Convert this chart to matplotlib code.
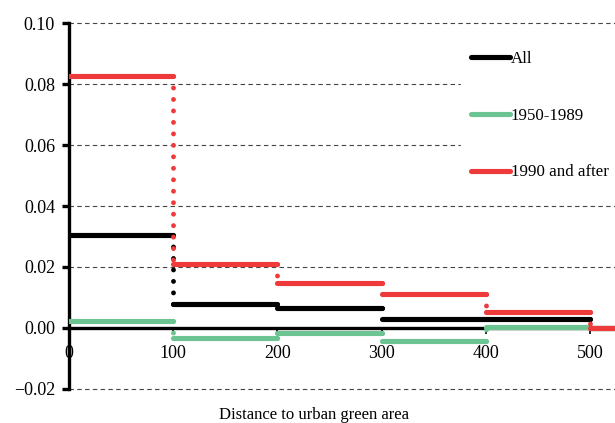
import matplotlib.pyplot as plt
from matplotlib.lines import Line2D

plt.rcParams['font.family'] = ['Liberation Serif', 'DejaVu Serif']
fntsz = 13

# step edges on the distance axis and the value of each step
breaks = [0, 100, 200, 300, 400, 500, 530]
all_vals = [0.0305, 0.0079, 0.0065, 0.0028, 0.0028, 0.0]
early_vals = [0.0023, -0.0034, -0.0017, -0.0042, 0.0002, 0.0]
late_vals = [0.0826, 0.0209, 0.0147, 0.0112, 0.0051, -0.0001]

labels = ['All', '1950-1989', '1990 and after']
colors = ['#000000', '#6cc493', '#ee3a3a']
series = [all_vals, early_vals, late_vals]

xticks = [0, 100, 200, 300, 400, 500]
yticks = [-0.02, 0.0, 0.02, 0.04, 0.06, 0.08, 0.10]

fig = plt.figure(figsize=(6.15, 4.23), dpi=100)
ax = fig.add_axes([0.1122, 0.0804, 0.8878, 0.8652])

lw = 3.7
for vals, col in zip(series, colors):
    for i in range(len(vals)):
        ax.plot([breaks[i], breaks[i + 1]], [vals[i], vals[i]], color=col, lw=lw,
                solid_capstyle='round', zorder=4)
    for i in range(len(vals) - 1):
        ax.plot([breaks[i + 1], breaks[i + 1]], [vals[i], vals[i + 1]], color=col, lw=3.5,
                linestyle=(0, (0.01, 2.35)), dash_capstyle='round', zorder=4)

ax.set_xlim(0, 524)
ax.set_ylim(-0.02, 0.10)
ax.set_yticks(yticks)
ax.set_yticklabels(['%.2f' % t if t != -0.02 else '\u22120.02' for t in yticks])
ax.set_xticks(xticks)
ax.set_xticklabels([str(t) for t in xticks])

ax.grid(axis='y', linestyle=(0, (4, 3)), color='#444444', lw=0.8)
for gl in ax.get_ygridlines():
    gl.set_clip_on(False)
ax.set_axisbelow(True)

for s in ['top', 'right']:
    ax.spines[s].set_visible(False)
ax.spines['bottom'].set_position(('data', 0))
ax.spines['bottom'].set_linewidth(2.4)
ax.spines['left'].set_linewidth(2.4)
ax.spines['bottom'].set_zorder(3)
ax.tick_params(axis='y', direction='out', length=5, width=2.4, pad=5, labelsize=fntsz)
ax.tick_params(axis='x', direction='out', length=4, width=1.2, pad=8, labelsize=fntsz)

fig.text(0.51, 0.020, 'Distance to urban green area', ha='center', va='center', fontsize=12)

handles = [Line2D([0], [0], color=c, lw=lw, solid_capstyle='round') for c in colors]
leg = fig.legend(handles, labels, loc='upper left', bbox_to_anchor=(461 / 615, 1 - 41 / 423),
                 prop={'size': 12.2}, frameon=True, fancybox=False, handlelength=2.3,
                 handletextpad=0.05, labelspacing=2.4, borderpad=0.6, borderaxespad=0)
leg.get_frame().set_facecolor('white')
leg.get_frame().set_edgecolor('white')
leg.get_frame().set_alpha(1)

plt.savefig('out.png', dpi=100)
